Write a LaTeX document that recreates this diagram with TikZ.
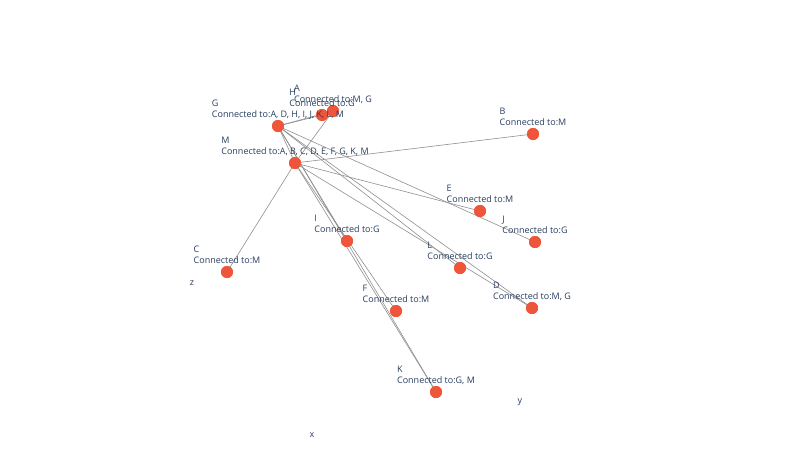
\documentclass[tikz,border=0pt]{standalone}
\usepackage{fontspec}
\setmainfont{Open Sans}
\definecolor{dot}{HTML}{EF553B}
\definecolor{txt}{HTML}{2A3F5F}
\definecolor{edge}{HTML}{909090}
\begin{document}
\begin{tikzpicture}[x=1pt,y=-1pt,
  pt/.style={circle,fill=dot,inner sep=0pt,minimum size=12pt},
  lab/.style={inner sep=0pt,text=txt,font=\fontsize{9}{10}\selectfont},
  edg/.style={draw=edge,line width=0.6pt}]
\useasboundingbox (0,0) rectangle (799,458);
\fill[white] (0,0) rectangle (799,458);
% nodes
\node[pt] (A) at (333,111) {};
\node[pt] (H) at (322,115) {};
\node[pt] (G) at (278,126) {};
\node[pt] (M) at (295,163) {};
\node[pt] (B) at (533,134) {};
\node[pt] (E) at (480,211) {};
\node[pt] (J) at (535,242) {};
\node[pt] (I) at (347,241) {};
\node[pt] (L) at (460,268) {};
\node[pt] (C) at (227,272) {};
\node[pt] (F) at (396,311) {};
\node[pt] (D) at (532,308) {};
\node[pt] (K) at (436,392) {};
% edges
\foreach \a/\b in {G/A,G/D,G/H,G/I,G/J,G/K,G/L,G/M,M/A,M/B,M/C,M/D,M/E,M/F,M/K}
  \draw[edg] (\a.center) -- (\b.center);
% dots on top of edges
\foreach \n in {A,H,G,M,B,E,J,I,L,C,F,D,K}
  \fill[dot] (\n.center) circle (6pt);
% labels
\foreach \n/\t in {A/{Connected to:M, G},H/{Connected to:G},G/{Connected to:A, D, H, I, J, K, L, M},M/{Connected to:A, B, C, D, E, F, G, K, M},B/{Connected to:M},E/{Connected to:M},J/{Connected to:G},I/{Connected to:G},L/{Connected to:G},C/{Connected to:M},F/{Connected to:M},D/{Connected to:M, G},K/{Connected to:G, M}}{
  \node[lab,anchor=base] (\n t) at ([yshift=8.5pt]\n.center) {\t};
  \node[lab,anchor=base west] (\n l) at ([yshift=11pt]\n t.base west) {\n};
}
% axis titles
\node[lab] (ax) at (312,435) {x};
\node[lab] (ay) at (520,402) {y};
\node[lab] (az) at (192,283) {z};
\end{tikzpicture}
\end{document}
